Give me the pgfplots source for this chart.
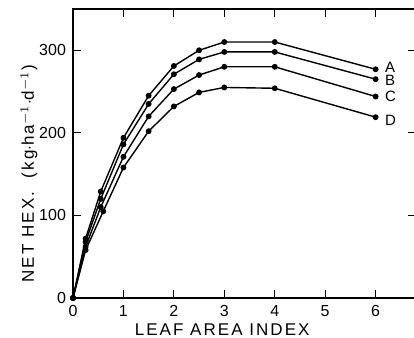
\documentclass[border=0pt]{standalone}
\usepackage{fontspec}
\setmainfont{Liberation Sans}
\newfontfamily\spaced[LetterSpace=12]{Liberation Sans}
\usepackage{pgfplots}
\pgfplotsset{compat=1.18}
\pgfplotsset{curve/.style={black, line width=0.7pt, mark=*, mark size=1.1pt, mark options={solid, fill=black}}}
\begin{document}
\begin{tikzpicture}
\clip (-36.5pt,-20pt) rectangle (170.5pt,149pt);
\begin{axis}[
  at={(0,0)}, anchor=south west,
  scale only axis, width=171.5pt, height=144.5pt,
  xmin=0, xmax=6.8, ymin=0, ymax=350,
  xtick={0,1,2,3,4,5,6}, ytick={0,100,200,300},
  tick align=inside, major tick length=4pt,
  /pgf/number format/assume math mode=true,
  tick label style={font=\fontsize{8}{9}\selectfont},
  every axis x label/.style={at={(ticklabel cs:0.435,-3pt)},anchor=north},
  every axis y label/.style={at={(ticklabel cs:0.43,-6pt)},anchor=south,rotate=90},
  xlabel={\spaced\fontsize{8.5}{10}\selectfont LEAF AREA INDEX},
  ylabel={\spaced\fontsize{8.5}{10}\selectfont NET HEX.\ \ (kg$\cdot$ha$^{-1}\cdot$d$^{-1}$)},
  axis line style={line width=0.6pt},
  every tick/.style={black, line width=0.6pt},
  clip=false,
]
\addplot[curve] coordinates {(0,0) (0.25,72) (0.55,129) (1,194) (1.5,245) (2,281) (2.5,300) (3,310) (4,310) (6,277)} node[pos=1,anchor=west,xshift=1pt,yshift=1pt,font=\fontsize{7.5}{8}\selectfont] {A};
\addplot[curve] coordinates {(0,0) (0.25,68) (0.55,120) (1,186) (1.5,235) (2,271) (2.5,289) (3,298) (4,298) (6,265)} node[pos=1,anchor=west,xshift=1pt,yshift=-0.8pt,font=\fontsize{7.5}{8}\selectfont] {B};
\addplot[curve] coordinates {(0,0) (0.25,62) (0.55,110) (1,171) (1.5,220) (2,253) (2.5,270) (3,280) (4,280) (6,244)} node[pos=1,anchor=west,xshift=1pt,font=\fontsize{7.5}{8}\selectfont] {C};
\addplot[curve] coordinates {(0,0) (0.25,58) (0.6,105) (1,158) (1.5,202) (2,232) (2.5,249) (3,255) (4,254) (6,219)} node[pos=1,anchor=west,xshift=1pt,yshift=-1.5pt,font=\fontsize{7.5}{8}\selectfont] {D};
\end{axis}
\end{tikzpicture}
\end{document}
